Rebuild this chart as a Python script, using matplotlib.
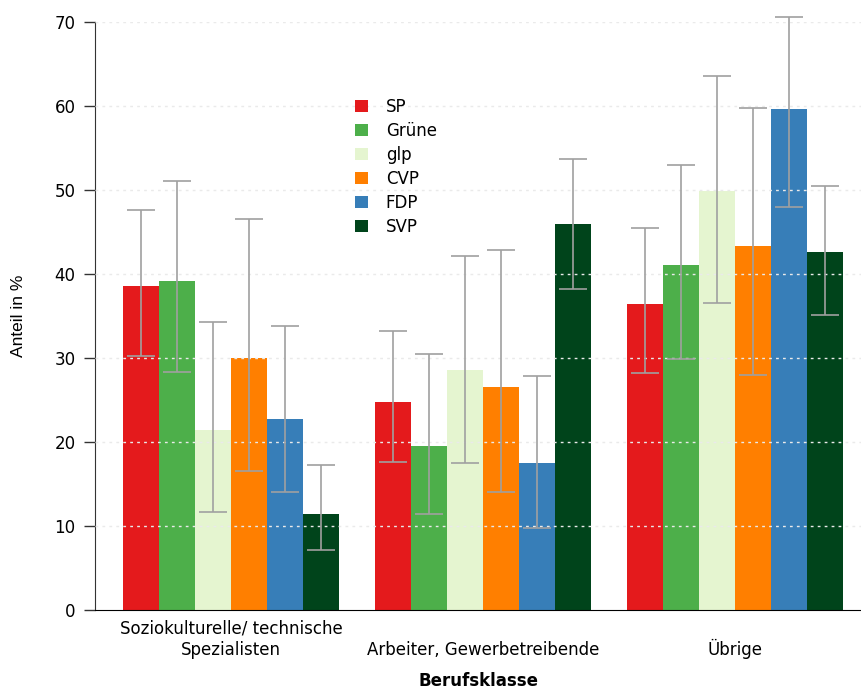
import matplotlib
matplotlib.use("Agg")
import matplotlib.pyplot as plt
import numpy as np
from matplotlib.patches import Patch

categories = ["Soziokulturelle/ technische\nSpezialisten", "Arbeiter, Gewerbetreibende", "Übrige"]
parties = ["SP", "Grüne", "glp", "CVP", "FDP", "SVP"]
colors = ["#e41a1c", "#4daf4a", "#e5f5d0", "#ff7f00", "#377eb8", "#00441b"]

# values per party, per category
values = {
    "SP":    [38.6, 24.8, 36.4],
    "Grüne": [39.2, 19.5, 41.1],
    "glp":   [21.4, 28.6, 49.9],
    "CVP":   [30.0, 26.5, 43.3],
    "FDP":   [22.7, 17.5, 59.6],
    "SVP":   [11.4, 46.0, 42.6],
}
lower = {
    "SP":    [30.2, 17.6, 28.2],
    "Grüne": [28.3, 11.4, 29.9],
    "glp":   [11.7, 17.5, 36.5],
    "CVP":   [16.6, 14.0, 28.0],
    "FDP":   [14.0, 9.8, 48.0],
    "SVP":   [7.1, 38.2, 35.1],
}
upper = {
    "SP":    [47.6, 33.2, 45.5],
    "Grüne": [51.1, 30.5, 53.0],
    "glp":   [34.3, 42.1, 63.6],
    "CVP":   [46.5, 42.9, 59.8],
    "FDP":   [33.8, 27.9, 70.6],
    "SVP":   [17.3, 53.7, 50.5],
}
yticks = [0, 10, 20, 30, 40, 50, 60, 70]

fig = plt.figure(figsize=(8.61, 6.90), dpi=100)
ax = fig.add_axes([95/861, 80/690, 1 - 95/861, (610-22)/690])

x = np.arange(len(categories))
w = 0.143
n = len(parties)
for i, p in enumerate(parties):
    pos = x + (i - (n - 1) / 2) * w
    v = np.array(values[p])
    lo = v - np.array(lower[p])
    hi = np.array(upper[p]) - v
    ax.bar(pos, v, width=w, color=colors[i], zorder=2, linewidth=0)
    eb = ax.errorbar(pos, v, yerr=[lo, hi], fmt="none", ecolor="#a0a0a0",
                     elinewidth=1.2, capsize=10, capthick=1.2, zorder=4)
    for art in eb.lines[1] + eb.lines[2]:
        art.set_clip_on(False)

ax.set_xlim(-0.54, 2.5)
ax.set_ylim(0, 70)
ax.set_yticks(yticks)
ax.set_yticklabels([str(t) for t in yticks], fontsize=12)
ax.set_xticks(x)
ax.set_xticklabels(categories, fontsize=12)
for lbl in ax.get_xticklabels():
    lbl.set_va("bottom")
ax.tick_params(axis="x", length=0, pad=35)
ax.tick_params(axis="y", length=8, width=1, color="#333333", pad=6)

for t in yticks[1:]:
    ax.axhline(t, color="#eaeaea", linestyle=(0, (2, 3)), linewidth=1, zorder=3)

for s in ["top", "right"]:
    ax.spines[s].set_visible(False)
ax.spines["left"].set_color("#333333")
ax.spines["bottom"].set_color("#000000")

ax.set_ylabel("Anteil in %", fontsize=12.5, family="Liberation Sans", va="center")
ax.yaxis.set_label_coords(-(95 - 19) / 766, 0.5)
ax.set_xlabel("Berufsklasse", fontsize=12, fontweight="bold", va="center")
ax.xaxis.set_label_coords(0.5, -(681 - 610) / 588)

handles = [Patch(facecolor=c, edgecolor="none") for c in colors]
fig.legend(handles, parties, loc="upper left", bbox_to_anchor=(340/861, 1 - 83/690),
           frameon=False, fontsize=12, handlelength=0.75, handleheight=0.75,
           labelspacing=0.36, handletextpad=1.1)

fig.savefig("out.png", dpi=100)
